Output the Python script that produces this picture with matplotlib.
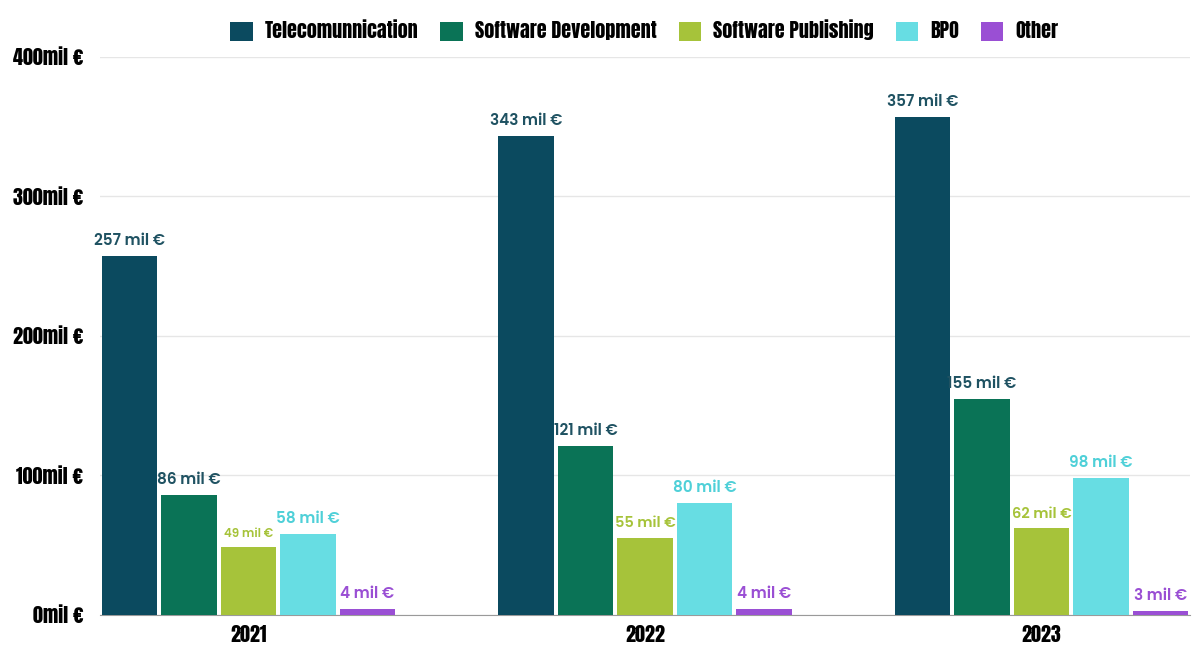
import numpy as np
import matplotlib.pyplot as plt
from matplotlib.patches import Patch

years = ['2021', '2022', '2023']
sectors = ['Telecomunnication', 'Software Development', 'Software Publishing', 'BPO', 'Other']
telecom = [257, 343, 357]
sw_dev = [86, 121, 155]
sw_pub = [49, 55, 62]
bpo = [58, 80, 98]
other = [4, 4, 3]
yticks = [0, 100, 200, 300, 400]

series = [telecom, sw_dev, sw_pub, bpo, other]
colors = ['#0b4a5f', '#0a7356', '#a6c33a', '#67dde3', '#9a4fd4']
label_colors = ['#1f5262', '#1f5262', '#a6c33a', '#4fd0d8', '#9a4fd4']

head_font = ['Anton', 'DejaVu Sans']
val_font = ['Poppins', 'DejaVu Sans']

fig = plt.figure(figsize=(11.93, 6.46), dpi=100)
ax = fig.add_axes([0.0838, 0.048, 0.9137, 0.864])

x = np.arange(len(years))
step = 0.15
width = 0.14
for j, (vals, c, lc) in enumerate(zip(series, colors, label_colors)):
    pos = x + (j - 2) * step
    ax.bar(pos, vals, width, color=c, zorder=3)
    for px, v in zip(pos, vals):
        size = 11
        if j == 2:
            size = 8.5 if v < 50 else 10.5
        ax.annotate(f'{v} mil €', (px, v), xytext=(0, 5), textcoords='offset points',
                    ha='center', va='bottom', fontsize=size, fontweight=600,
                    color=lc, family=val_font, zorder=4)

ax.set_xlim(-0.375, 2.375)
ax.set_ylim(0, 400)
ax.set_yticks(yticks)
ax.set_yticklabels([f'{t}mil €' for t in yticks], family=head_font, fontsize=14.5)
ax.set_xticks(x)
ax.set_xticklabels(years, family=head_font, fontsize=14.5)
ax.tick_params(axis='y', length=0, pad=12)
ax.tick_params(axis='x', length=0, pad=7)
ax.grid(axis='y', color='#e6e6e6', linewidth=1, zorder=0)
for s in ['top', 'right', 'left']:
    ax.spines[s].set_visible(False)
ax.spines['bottom'].set_color('#9a9a9a')

handles = [Patch(facecolor=c, label=n) for c, n in zip(colors, sectors)]
fig.legend(handles=handles, loc='center', bbox_to_anchor=(0.540, 0.953),
           ncol=5, frameon=False, handlelength=1.1, handleheight=1.1,
           handletextpad=0.6, columnspacing=1.1,
           prop={'family': head_font, 'size': 14.5})

fig.savefig('out.png', dpi=100, facecolor='white')
